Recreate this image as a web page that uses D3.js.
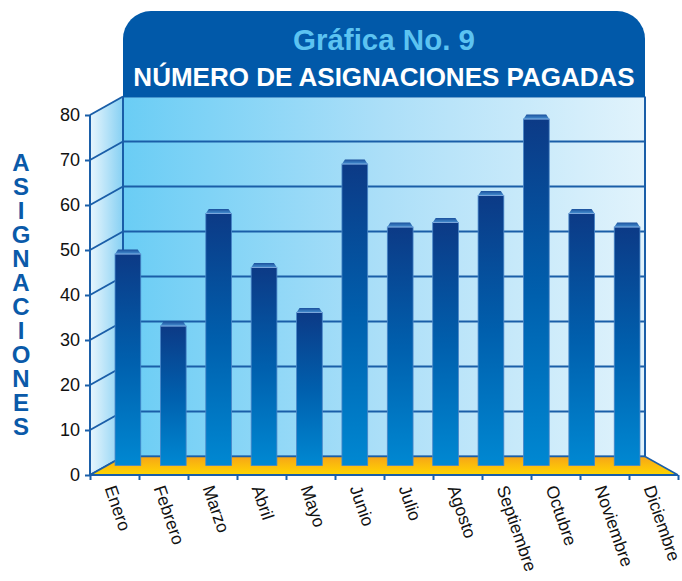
<!DOCTYPE html>
<html><head><meta charset="utf-8">
<script src="https://cdn.jsdelivr.net/npm/d3@7"></script>
<style>html,body{margin:0;padding:0;background:#fff;} svg{display:block}</style>
</head><body>
<svg id="chart" width="682" height="581"></svg>
<script>
const months = ["Enero","Febrero","Marzo","Abril","Mayo","Junio","Julio","Agosto","Septiembre","Octubre","Noviembre","Diciembre"];
const values = [48,32,57,45,35,68,54,55,61,78,57,54];
const yTicks = [0,10,20,30,40,50,60,70,80];
const title = "Gráfica No. 9";
const subtitle = "NÚMERO DE ASIGNACIONES PAGADAS";
const yLabel = "ASIGNACIONES";

const svg = d3.select("#chart");
const font = "'Liberation Sans', Arial, Helvetica, sans-serif";
const lineCol = "#1a5ea8";

const frontL = 90, frontR = 678, backL = 123, backR = 645;
const yFront = d3.scaleLinear().domain([0, 80]).range([475, 115]);
const yBack = d3.scaleLinear().domain([0, 80]).range([456.5, 96.5]);
const yBar = d3.scaleLinear().domain([0, 80]).range([465.5, 105.5]);
const xFront = d3.scaleBand().domain(months).range([frontL, frontR]);
const xBar = d3.scaleBand().domain(months).range([105.2, 649.8]).paddingInner(0.433).paddingOuter(0.2165);
const xTick = d3.scaleLinear().domain([0, 12]).range([frontL, frontR]);

const defs = svg.append("defs");
function lin(id, x1, y1, x2, y2, stops, units) {
  const g = defs.append("linearGradient").attr("id", id)
    .attr("x1", x1).attr("y1", y1).attr("x2", x2).attr("y2", y2);
  if (units) g.attr("gradientUnits", units);
  stops.forEach(s => g.append("stop").attr("offset", s[0]).attr("stop-color", s[1]));
}
lin("gBack", "0", "0", "1", "0", [[0, "#6acdf5"], [0.5, "#acdff8"], [1, "#e1f3fc"]]);
lin("gSide", frontL, 0, backL, 0, [[0, "#e8f6fd"], [1, "#86d0f3"]], "userSpaceOnUse");
lin("gFloor", 0, yBack(0), 0, yFront(0), [[0, "#f7a517"], [1, "#ffd600"]], "userSpaceOnUse");
lin("gBar", "0", "0", "0", "1", [[0, "#0c3a86"], [0.5, "#005fad"], [1, "#0088d2"]]);
lin("gCap", "0", "0", "0", "1", [[0, "#1a4f9c"], [1, "#4791d2"]]);

// back wall
svg.append("rect").attr("x", backL).attr("y", yBack(80))
  .attr("width", backR - backL).attr("height", yBack(0) - yBack(80)).attr("fill", "url(#gBack)");
// side wall
svg.append("polygon").attr("points", [[frontL, yFront(80)], [backL, yBack(80)], [backL, yBack(0)], [frontL, yFront(0)]].join(" "))
  .attr("fill", "url(#gSide)");

// gridlines
const grid = svg.append("g").attr("stroke", lineCol).attr("stroke-width", 2).attr("fill", "none");
grid.selectAll(".gb").data(yTicks).join("line")
  .attr("x1", backL).attr("x2", backR).attr("y1", d => yBack(d)).attr("y2", d => yBack(d));
grid.selectAll(".gs").data(yTicks).join("line")
  .attr("x1", frontL).attr("x2", backL).attr("y1", d => yFront(d)).attr("y2", d => yBack(d));
grid.append("line").attr("x1", backL).attr("x2", backL).attr("y1", yBack(80)).attr("y2", yBack(0));
grid.append("line").attr("x1", backR).attr("x2", backR).attr("y1", yBack(80)).attr("y2", yBack(0));

// floor
svg.append("polygon").attr("points", [[frontL, yFront(0)], [backL, yBack(0)], [backR, yBack(0)], [frontR, yFront(0)]].join(" "))
  .attr("fill", "url(#gFloor)");
svg.append("line").attr("x1", backL).attr("x2", backR).attr("y1", yBack(0)).attr("y2", yBack(0))
  .attr("stroke", lineCol).attr("stroke-width", 1.5);
svg.append("line").attr("x1", backR).attr("y1", yBack(0)).attr("x2", frontR).attr("y2", yFront(0))
  .attr("stroke", lineCol).attr("stroke-width", 1.5);
svg.append("line").attr("x1", backL).attr("y1", yBack(0)).attr("x2", frontL).attr("y2", yFront(0))
  .attr("stroke", lineCol).attr("stroke-width", 2);

// bars
const capH = 4.5, inset = 3;
const bars = svg.append("g").selectAll("g").data(months.map((m, i) => ({ m, v: values[i] }))).join("g");
bars.append("rect")
  .attr("x", d => xBar(d.m)).attr("width", xBar.bandwidth())
  .attr("y", d => yBar(d.v) + capH).attr("height", d => yBar(0) - yBar(d.v) - capH)
  .attr("fill", "url(#gBar)").attr("stroke", "#4a86c8").attr("stroke-width", 0.8);
bars.append("polygon")
  .attr("points", d => {
    const x0 = xBar(d.m), x1 = x0 + xBar.bandwidth(), t = yBar(d.v), b = t + capH;
    return [[x0, b], [x0 + inset, t], [x1 - inset, t], [x1, b]].join(" ");
  })
  .attr("fill", "url(#gCap)");
bars.append("line")
  .attr("x1", d => xBar(d.m)).attr("x2", d => xBar(d.m) + xBar.bandwidth())
  .attr("y1", d => yBar(d.v) + capH).attr("y2", d => yBar(d.v) + capH)
  .attr("stroke", "#7aa6dc").attr("stroke-width", 1);

// y axis (front)
const yAxis = svg.append("g").attr("transform", `translate(${frontL},0)`)
  .call(d3.axisLeft(yFront).tickValues(yTicks).tickSize(5).tickPadding(5).tickFormat(d3.format("d")));
yAxis.select(".domain").attr("stroke", lineCol).attr("stroke-width", 2).attr("d", `M0,${yFront(80)}V${yFront(0)}`);
yAxis.selectAll(".tick line").attr("stroke", lineCol).attr("stroke-width", 2);
yAxis.selectAll(".tick text").attr("fill", "#111").style("font-family", font).style("font-size", "18px");

// x axis (front)
const xAxis = svg.append("g").attr("transform", `translate(0,${yFront(0)})`)
  .call(d3.axisBottom(xTick).tickValues(d3.range(0, 13)).tickSize(5).tickFormat(""));
xAxis.select(".domain").attr("stroke", lineCol).attr("stroke-width", 2).attr("d", `M${frontL},0H${frontR}`);
xAxis.selectAll(".tick line").attr("stroke", lineCol).attr("stroke-width", 2);

svg.append("g").selectAll("text").data(months).join("text")
  .attr("transform", d => `translate(${xFront(d) + xFront.bandwidth() / 2 - 10},488) rotate(71)`)
  .attr("fill", "#111").style("font-family", font).style("font-size", "17.5px")
  .text(d => d);

// title box
const bx0 = backL, bx1 = backR, by0 = 11, by1 = 97, r = 28;
svg.append("path")
  .attr("d", `M${bx0},${by1}V${by0 + r}A${r},${r} 0 0 1 ${bx0 + r},${by0}H${bx1 - r}A${r},${r} 0 0 1 ${bx1},${by0 + r}V${by1}Z`)
  .attr("fill", "#0159a9");
svg.append("text").attr("x", (bx0 + bx1) / 2).attr("y", 50).attr("text-anchor", "middle")
  .attr("fill", "#5cc3f1").style("font-family", font).style("font-weight", "bold").style("font-size", "29.5px")
  .text(title);
svg.append("text").attr("x", (bx0 + bx1) / 2).attr("y", 86).attr("text-anchor", "middle")
  .attr("fill", "#fff").style("font-family", font).style("font-weight", "bold").style("font-size", "26px")
  .text(subtitle);

// vertical y label
svg.append("g").selectAll("text").data(yLabel.split("")).join("text")
  .attr("x", 21).attr("y", (d, i) => 171 + i * 24).attr("text-anchor", "middle")
  .attr("fill", "#0a5aa9").style("font-family", font).style("font-weight", "bold").style("font-size", "24px")
  .text(d => d);
</script>
</body></html>
